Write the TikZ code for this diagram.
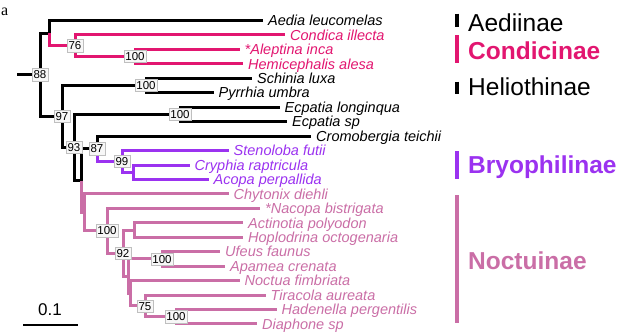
\documentclass[tikz,border=0pt]{standalone}
\usepackage{fontspec}
\setmainfont{Liberation Sans}
\newfontfamily\panelfont{Liberation Serif}
\definecolor{cond}{RGB}{226,22,112}
\definecolor{bryo}{RGB}{155,50,240}
\definecolor{noct}{RGB}{202,110,166}
\begin{document}
\begin{tikzpicture}[x=1pt,y=-1pt,
  br/.style={line width=3pt,line join=miter},
  leaf/.style={anchor=west,inner xsep=5pt,inner ysep=0pt,text height=10.4pt,text depth=0pt,
    font=\fontsize{14.5}{16}\selectfont\itshape},
  bs/.style={fill=black!3,draw=black!25,line width=0.6pt,inner xsep=1.5pt,inner ysep=2pt,
    text height=8.2pt,text depth=0pt,font=\fontsize{11.5}{12}\selectfont},
  clade/.style={anchor=base west,inner sep=0pt,font=\fontsize{24.5}{26}\selectfont},
  cbar/.style={line width=3.5pt}]
\useasboundingbox (0,0) rectangle (627,333);
% panel letter
\node[anchor=base west,inner sep=0pt,font=\panelfont\fontsize{16}{18}\selectfont] (panel) at (1,15.5) {a};
% internal nodes
\coordinate (root) at (17,74.8);
\coordinate (n88) at (40,74.8);
\coordinate (nA) at (49,33.15);
\coordinate (n76) at (75,45.8);
\coordinate (nAH) at (135,56.6);
\coordinate (n97) at (62,116.5);
\coordinate (nSP) at (146,85.5);
\coordinate (n93) at (74,147.45);
\coordinate (nEC) at (180,114.4);
\coordinate (nX) at (81,180.5);
\coordinate (n87) at (97,148.75);
\coordinate (n99) at (122,161.4);
\coordinate (nCA) at (133,172.2);
\coordinate (nN) at (84,212.3);
\coordinate (nN2) at (107,230.7);
\coordinate (n92) at (123,253.05);
\coordinate (nAO) at (134,230.0);
\coordinate (nY) at (128,276.1);
\coordinate (nUA) at (162,258.9);
\coordinate (nZ) at (130,293.25);
\coordinate (n75) at (145,305.9);
\coordinate (nHD) at (176,316.7);
% leaves
\node[leaf] (l1) at (263,20.5) {Aedia leucomelas};
\node[leaf,text=cond] (l2) at (285,34.95) {Condica illecta};
\node[leaf,text=cond] (l3) at (239.5,49.4) {*Aleptina inca};
\node[leaf,text=cond] (l4) at (243,63.85) {Hemicephalis alesa};
\node[leaf] (l5) at (252,78.3) {Schinia luxa};
\node[leaf] (l6) at (213.5,92.75) {Pyrrhia umbra};
\node[leaf] (l7) at (279.5,107.2) {Ecpatia longinqua};
\node[leaf] (l8) at (287,121.65) {Ecpatia sp};
\node[leaf] (l9) at (311,136.1) {Cromobergia teichii};
\node[leaf,text=bryo] (l10) at (228.5,150.55) {Stenoloba futii};
\node[leaf,text=bryo] (l11) at (189.5,165) {Cryphia raptricula};
\node[leaf,text=bryo] (l12) at (208.5,179.45) {Acopa perpallida};
\node[leaf,text=noct] (l13) at (228.5,193.9) {Chytonix diehli};
\node[leaf,text=noct] (l14) at (260,208.35) {*Nacopa bistrigata};
\node[leaf,text=noct] (l15) at (243,222.8) {Actinotia polyodon};
\node[leaf,text=noct] (l16) at (243,237.25) {Hoplodrina octogenaria};
\node[leaf,text=noct] (l17) at (220,251.7) {Ufeus faunus};
\node[leaf,text=noct] (l18) at (225,266.15) {Apamea crenata};
\node[leaf,text=noct] (l19) at (239.5,280.6) {Noctua fimbriata};
\node[leaf,text=noct] (l20) at (265.5,295.05) {Tiracola aureata};
\node[leaf,text=noct] (l21) at (276.5,309.5) {Hadenella pergentilis};
\node[leaf,text=noct] (l22) at (257,323.95) {Diaphone sp};
% black branches
\draw[br] (root) -- (n88);
\draw[br] (n88) |- (nA);
\draw[br] (nA) |- (l1.west);
\draw[br] (n88) |- (n97);
\draw[br] (n97) |- (nSP);
\draw[br] (nSP) |- (l5.west);
\draw[br] (nSP) |- (l6.west);
\draw[br] (n97) |- (n93);
\draw[br] (n93) |- (nEC);
\draw[br] (nEC) |- (l7.west);
\draw[br] (nEC) |- (l8.west);
\draw[br] (n93) |- (nX);
\draw[br] (nX) |- (n87);
\draw[br] (n87) |- (l9.west);
% Condicinae
\draw[br,cond] (nA) |- (n76);
\draw[br,cond] (n76) |- (l2.west);
\draw[br,cond] (n76) |- (nAH);
\draw[br,cond] (nAH) |- (l3.west);
\draw[br,cond] (nAH) |- (l4.west);
% Bryophilinae
\draw[br,bryo] (n87) |- (n99);
\draw[br,bryo] (n99) |- (l10.west);
\draw[br,bryo] (n99) |- (nCA);
\draw[br,bryo] (nCA) |- (l11.west);
\draw[br,bryo] (nCA) |- (l12.west);
% Noctuinae
\draw[br,noct] (nX) |- (nN);
\draw[br,noct] (nN) |- (l13.west);
\draw[br,noct] (nN) |- (nN2);
\draw[br,noct] (nN2) |- (l14.west);
\draw[br,noct] (nN2) |- (n92);
\draw[br,noct] (n92) |- (nAO);
\draw[br,noct] (nAO) |- (l15.west);
\draw[br,noct] (nAO) |- (l16.west);
\draw[br,noct] (n92) |- (nY);
\draw[br,noct] (nY) |- (nUA);
\draw[br,noct] (nUA) |- (l17.west);
\draw[br,noct] (nUA) |- (l18.west);
\draw[br,noct] (nY) |- (nZ);
\draw[br,noct] (nZ) |- (l19.west);
\draw[br,noct] (nZ) |- (n75);
\draw[br,noct] (n75) |- (l20.west);
\draw[br,noct] (n75) |- (nHD);
\draw[br,noct] (nHD) |- (l21.west);
\draw[br,noct] (nHD) |- (l22.west);
% support values
\node[bs] (b88) at (n88) {88};
\node[bs] (b76) at (n76) {76};
\node[bs] (bAH) at (nAH) {100};
\node[bs] (bSP) at (nSP) {100};
\node[bs] (b97) at (n97) {97};
\node[bs] (bEC) at (nEC) {100};
\node[bs] (b93) at (n93) {93};
\node[bs] (b87) at (n87) {87};
\node[bs] (b99) at (n99) {99};
\node[bs] (bN2) at (nN2) {100};
\node[bs] (b92) at (n92) {92};
\node[bs] (bUA) at (nUA) {100};
\node[bs] (b75) at (n75) {75};
\node[bs] (bHD) at (nHD) {100};
% clade bars and labels
\draw[cbar] (457,13.5) -- (457,26.5);
\node[clade] (cAe) at (468,31) {Aediinae};
\draw[cbar,cond] (457,35) -- (457,63);
\node[clade,text=cond,font=\fontsize{24.5}{26}\selectfont\bfseries] (cCo) at (468,59) {Condicinae};
\draw[cbar] (457,81.5) -- (457,94);
\node[clade] (cHe) at (468,95) {Heliothinae};
\draw[cbar,bryo] (457,151) -- (457,179);
\node[clade,text=bryo,font=\fontsize{24.5}{26}\selectfont\bfseries] (cBr) at (468,173.5) {Bryophilinae};
\draw[cbar,noct] (457,195) -- (457,323);
\node[clade,text=noct,font=\fontsize{24.5}{26}\selectfont\bfseries] (cNo) at (468,269.5) {Noctuinae};
% scale bar
\coordinate (sb1) at (23,325);
\coordinate (sb2) at (78,325);
\draw[line width=2pt] (sb1) -- (sb2);
\node[anchor=base,inner sep=0pt,font=\fontsize{17}{18}\selectfont] (sbl) at (50,315) {0.1};
\end{tikzpicture}
\end{document}
